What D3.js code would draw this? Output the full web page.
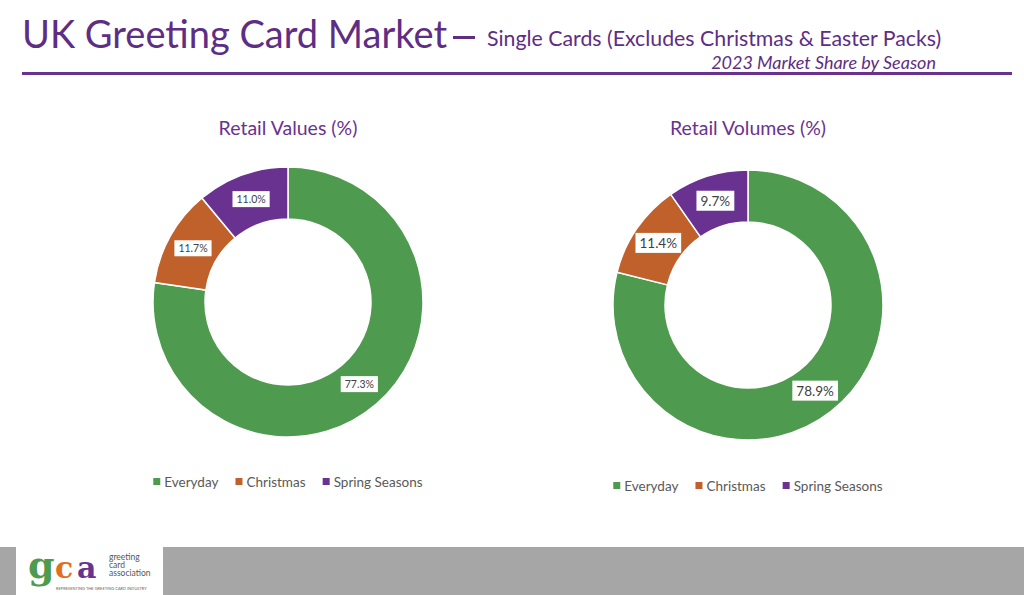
<!DOCTYPE html>
<html>
<head>
<meta charset="utf-8">
<script src="https://cdn.jsdelivr.net/npm/d3@7"></script>
<style>
  body { margin: 0; background: #fff; }
  svg { display: block; font-family: Lato, "Open Sans", sans-serif; }
</style>
</head>
<body>
<div id="holder"></div>
<script>
const categories = ["Everyday", "Christmas", "Spring Seasons"];
const retailValues = [77.3, 11.7, 11.0];
const retailVolumes = [78.9, 11.4, 9.7];
const colours = ["#4e9a4e", "#c0602a", "#6a3290"];

const width = 1024;
const height = 595;
const purple = "#5e2d84";

const svg = d3.select("#holder")
    .append("svg")
    .attr("width", width)
    .attr("height", height);

// header
svg.append("text")
    .attr("x", 22)
    .attr("y", 48)
    .attr("fill", purple)
    .style("font-size", "38px")
    .text("UK Greeting Card Market");

svg.append("rect")
    .attr("x", 453).attr("y", 36)
    .attr("width", 22).attr("height", 3)
    .attr("fill", purple);

svg.append("text")
    .attr("x", 487)
    .attr("y", 46)
    .attr("fill", purple)
    .style("font-size", "21.3px")
    .text("Single Cards (Excludes Christmas & Easter Packs)");

svg.append("text")
    .attr("x", 936)
    .attr("y", 69)
    .attr("text-anchor", "end")
    .attr("fill", purple)
    .style("font-size", "18px")
    .style("font-style", "italic")
    .text("2023 Market Share by Season");

svg.append("line")
    .attr("x1", 22).attr("x2", 1012)
    .attr("y1", 73.5).attr("y2", 73.5)
    .attr("stroke", "#6a3290")
    .attr("stroke-width", 3);

const colour = d3.scaleOrdinal().domain(categories).range(colours);

function donut(values, title, cx, cy, titleY, legendY, labelSize) {
    const data = categories.map((c, i) => ({ name: c, value: values[i] }));
    const pie = d3.pie().sort(null).value(d => d.value);
    const arc = d3.arc().innerRadius(83).outerRadius(135);
    const g = svg.append("g").attr("transform", `translate(${cx}, ${cy})`);

    svg.append("text")
        .attr("x", cx)
        .attr("y", titleY)
        .attr("text-anchor", "middle")
        .attr("fill", "#6a3290")
        .style("font-size", "19.5px")
        .text(title);

    const arcs = pie(data);
    g.selectAll("path")
        .data(arcs)
        .enter()
        .append("path")
        .attr("d", arc)
        .attr("fill", d => colour(d.data.name))
        .attr("stroke", "white")
        .attr("stroke-width", 1.5);

    const labels = g.selectAll("g.lab")
        .data(arcs)
        .enter()
        .append("g")
        .attr("class", "lab")
        .attr("transform", d => `translate(${arc.centroid(d)})`);

    labels.append("text")
        .attr("text-anchor", "middle")
        .attr("dy", "0.35em")
        .attr("fill", "#404040")
        .style("font-size", labelSize + "px")
        .text(d => d.data.value.toFixed(1) + "%")
        .each(function () {
            const b = this.getBBox();
            d3.select(this.parentNode).insert("rect", "text")
                .attr("x", b.x - 4)
                .attr("y", b.y - 2)
                .attr("width", b.width + 8)
                .attr("height", b.height + 4)
                .attr("fill", "white");
        });

    // legend
    const legend = svg.append("g").attr("transform", `translate(0, ${legendY})`);
    let x = 0;
    const items = legend.selectAll("g")
        .data(categories)
        .enter()
        .append("g");
    items.append("rect")
        .attr("y", -4)
        .attr("width", 7)
        .attr("height", 7)
        .attr("fill", d => colour(d));
    items.append("text")
        .attr("x", 11)
        .attr("dy", "0.35em")
        .attr("fill", "#595959")
        .style("font-size", "13.5px")
        .text(d => d);
    items.each(function () {
        d3.select(this).attr("transform", `translate(${x}, 0)`);
        x += this.getBBox().width + 17;
    });
    const total = x - 17;
    legend.attr("transform", `translate(${cx - total / 2}, ${legendY})`);
}

donut(retailValues, "Retail Values (%)", 288, 302, 135, 482, 10.5);
donut(retailVolumes, "Retail Volumes (%)", 748, 305, 135, 486, 13.5);

// footer
svg.append("rect")
    .attr("x", 0).attr("y", 547)
    .attr("width", width).attr("height", 48)
    .attr("fill", "#a6a6a6");
svg.append("rect")
    .attr("x", 16).attr("y", 547)
    .attr("width", 147).attr("height", 48)
    .attr("fill", "white");

const logo = svg.append("g").attr("transform", "translate(28, 578)");
const logoFont = "'DejaVu Serif', serif";
logo.append("text").attr("x", 0).attr("fill", "#4e9a4e")
    .style("font-family", logoFont)
    .style("font-size", "38px").style("font-weight", "bold").text("g");
logo.append("text").attr("x", 27).attr("fill", "#e0701e")
    .style("font-family", logoFont)
    .style("font-size", "30px").style("font-weight", "bold").text("c");
logo.append("text").attr("x", 49).attr("fill", "#6a3290")
    .style("font-family", logoFont)
    .style("font-size", "30px").style("font-weight", "bold").text("a");
["greeting", "card", "association"].forEach((t, i) => {
    logo.append("text")
        .attr("x", 81)
        .attr("y", -18 + i * 8)
        .attr("fill", "#555")
        .style("font-size", "8.5px")
        .text(t);
});
logo.append("text")
    .attr("x", 28).attr("y", 12)
    .attr("fill", "#666")
    .style("font-size", "4px")
    .text("REPRESENTING THE GREETING CARD INDUSTRY");
</script>
</body>
</html>
